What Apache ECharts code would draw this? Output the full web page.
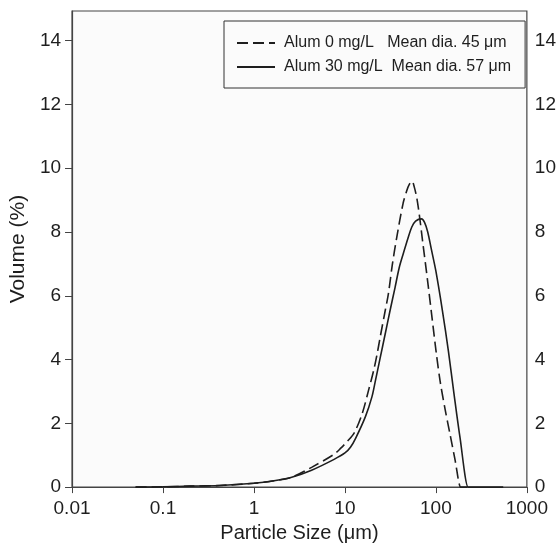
<!DOCTYPE html>
<html>
<head>
<meta charset="utf-8">
<script src="https://cdn.jsdelivr.net/npm/echarts@6/dist/echarts.min.js"></script>
<style>
  html, body { margin: 0; padding: 0; background: #fff; }
  #chart { width: 559px; height: 548px; }
</style>
</head>
<body>
<div id="chart"></div>
<script>
// series names (legend text)
var seriesNames = ['Alum 0 mg/L   Mean dia. 45 \u03bcm', 'Alum 30 mg/L  Mean dia. 57 \u03bcm'];

// Alum 0 mg/L (dashed): particle size (um) and volume (%)
var size0 = [0.05, 0.1, 0.2, 0.42, 1, 1.6, 2.6, 4.3, 7.6, 9, 10.5, 12.6, 15.5, 18.2, 20.7, 22.5, 24.4, 27.7, 30, 33.1, 37, 43.6, 47.9, 51, 54.6, 58, 61.8, 66, 71.5, 80.8, 91.4, 101, 111.6, 126.4, 143.2, 162, 187, 189, 220];
var vol0  = [0, 0.01, 0.03, 0.05, 0.12, 0.19, 0.31, 0.62, 1.03, 1.22, 1.42, 1.69, 2.31, 3.04, 3.66, 4.15, 4.7, 5.53, 6.05, 6.95, 7.81, 8.9, 9.3, 9.49, 9.59, 9.4, 9.05, 8.5, 7.7, 6.5, 5.23, 4.2, 3.3, 2.43, 1.65, 0.87, 0, 0, 0];

// Alum 30 mg/L (solid)
var size30 = [0.05, 0.1, 0.2, 0.42, 1, 1.6, 2.6, 4.3, 7.6, 10, 11.5, 13.1, 16.8, 19.8, 21.5, 24.4, 27.7, 31.3, 35.5, 39.5, 44, 49.4, 54.2, 59.8, 69.5, 75, 81.3, 88.5, 100, 118, 137, 158, 183.5, 226, 229, 550];
var vol30  = [0, 0.01, 0.03, 0.05, 0.12, 0.19, 0.31, 0.53, 0.87, 1.07, 1.25, 1.53, 2.21, 2.83, 3.3, 4.05, 4.8, 5.53, 6.25, 6.88, 7.34, 7.81, 8.15, 8.34, 8.41, 8.3, 8.0, 7.5, 6.77, 5.53, 4.28, 2.93, 1.58, 0, 0, 0];

// axis ticks
var yTicks = [0, 2, 4, 6, 8, 10, 12, 14];
var xTicks = [0.01, 0.1, 1, 10, 100, 1000];

function pairs(xs, ys) {
  var res = [];
  for (var i = 0; i < xs.length; i++) res.push([xs[i], ys[i]]);
  return res;
}

var font = 'Liberation Sans, Arial, Helvetica, sans-serif';
var ink = '#1e1e1e';

var myChart = echarts.init(document.getElementById('chart'), null, { renderer: 'canvas' });

var option = {
  backgroundColor: '#fff',
  animation: false,
  textStyle: { fontFamily: font },
  grid: {
    left: 67, right: 30, top: 11, bottom: 57,
    show: true,
    backgroundColor: '#fbfbfb',
    borderColor: '#444',
    borderWidth: 1.2
  },
  legend: {
    orient: 'vertical',
    left: 224, top: 21,
    padding: [14, 14, 13, 12],
    itemGap: 8,
    itemWidth: 38,
    itemHeight: 14,
    borderColor: '#333',
    borderWidth: 1,
    backgroundColor: '#fbfbfb',
    itemStyle: { color: 'rgba(0,0,0,0)', borderWidth: 0, opacity: 0 },
    textStyle: { fontSize: 16, color: ink, fontFamily: font, padding: [0, 0, 0, 4] },
    data: seriesNames
  },
  xAxis: {
    type: 'log',
    logBase: 10,
    min: 0.01,
    max: 1000,
    name: 'Particle Size (\u03bcm)',
    nameLocation: 'middle',
    nameGap: 33,
    nameTextStyle: { fontSize: 20, color: ink, fontFamily: font },
    axisLine: { show: true, lineStyle: { color: '#444', width: 1.2 } },
    axisTick: { show: true, length: 6, lineStyle: { color: '#444' } },
    minorTick: { show: false },
    splitLine: { show: false },
    axisLabel: {
      fontSize: 19, color: ink, margin: 12, fontFamily: font,
      formatter: function (v) {
        var r = parseFloat(Number(v).toPrecision(3));
        return xTicks.indexOf(r) >= 0 ? String(r) : '';
      }
    }
  },
  yAxis: [
    {
      type: 'value',
      min: 0,
      max: 14.93,
      interval: 2,
      name: 'Volume (%)',
      nameLocation: 'middle',
      nameGap: 38,
      nameTextStyle: { fontSize: 21, color: ink, fontFamily: font },
      axisLine: { show: true, lineStyle: { color: '#444', width: 1.2 } },
      axisTick: { show: true, length: 7, customValues: yTicks, lineStyle: { color: '#444' } },
      splitLine: { show: false },
      axisLabel: { fontSize: 19, color: ink, margin: 11, customValues: yTicks, fontFamily: font }
    },
    {
      type: 'value',
      position: 'right',
      min: 0,
      max: 14.93,
      interval: 2,
      axisLine: { show: false },
      axisTick: { show: false },
      splitLine: { show: false },
      axisLabel: { fontSize: 19, color: ink, margin: 8, customValues: yTicks, fontFamily: font }
    }
  ],
  series: [
    {
      name: seriesNames[0],
      type: 'line',
      smooth: 0.3,
      symbol: 'none',
      data: pairs(size0, vol0),
      lineStyle: { color: ink, width: 1.6, type: [11, 5] },
      itemStyle: { color: ink },
      z: 3
    },
    {
      name: seriesNames[1],
      type: 'line',
      smooth: 0.3,
      symbol: 'none',
      data: pairs(size30, vol30),
      lineStyle: { color: ink, width: 1.6, type: 'solid' },
      itemStyle: { color: ink },
      z: 3
    }
  ]
};

myChart.setOption(option);

window.addEventListener('resize', function () {
  myChart.resize();
});
</script>
</body>
</html>
